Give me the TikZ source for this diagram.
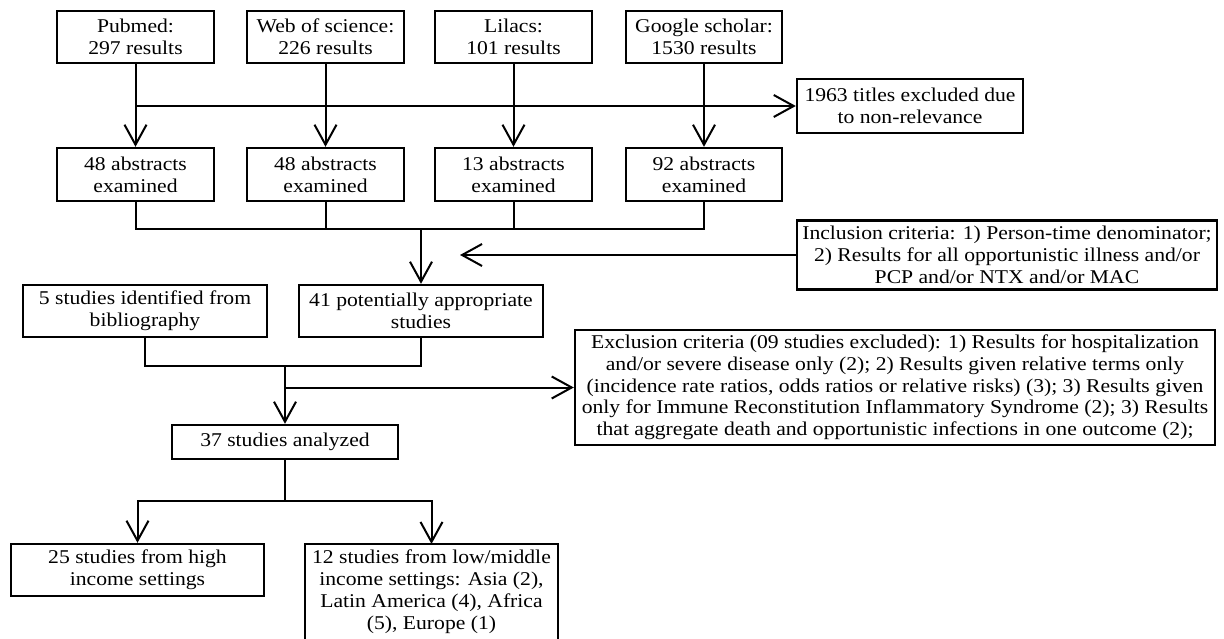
\documentclass[tikz,border=0pt]{standalone}
\usepackage{fontspec}
\setmainfont{Liberation Serif}[FakeStretch=1.11]
\usetikzlibrary{arrows.meta,positioning}

\begin{document}
\begin{tikzpicture}
  [
  x=1pt, y=-1pt,
  font=\fontsize{19.5}{21.7}\selectfont, line width=2pt, draw=black,
  >={Straight Barb[length=20pt,width=22pt]},
  box/.style={rectangle, draw=black, line width=2.4pt, align=center, inner sep=2pt, minimum height=52pt},
  dbbox/.style={box, minimum width=157pt},
  ]
  \useasboundingbox (0,0) rectangle (1224,639);
  \clip (0,0) rectangle (1224,639);

  % searches
  \node[dbbox] (pubmed) at (135.5,37) {Pubmed:\\297 results};
  \node[dbbox] (wos) at (325.5,37) {Web of science:\\226 results};
  \node[dbbox] (lilacs) at (513.5,37) {Lilacs:\\101 results};
  \node[dbbox, minimum width=156pt] (scholar) at (704,37) {Google scholar:\\1530 results};

  \node[box, minimum width=226pt, minimum height=54pt] (titles) at (910,106) {1963 titles excluded due\\to non-relevance};
  \draw[->] (pubmed.south |- titles.west) -- (titles.west);

  % abstracts
  \node[dbbox, minimum height=53pt] (abs1) at (135.5,174.5) {48 abstracts\\examined} edge[<-] (pubmed);
  \node[dbbox, minimum height=53pt] (abs2) at (325.5,174.5) {48 abstracts\\examined} edge[<-] (wos);
  \node[dbbox, minimum height=53pt] (abs3) at (513.5,174.5) {13 abstracts\\examined} edge[<-] (lilacs);
  \node[dbbox, minimum height=53pt, minimum width=156pt] (abs4) at (704,174.5) {92 abstracts\\examined} edge[<-] (scholar);

  \coordinate (absjoin) at (421,229);
  \draw (abs1.south) |- (absjoin) -| (abs4.south);
  \draw (abs2.south) -- (abs2.south |- absjoin);
  \draw (abs3.south) -- (abs3.south |- absjoin);

  \node[box, minimum width=420pt, minimum height=69pt] (incl) at (1007,255) {Inclusion criteria: 1) Person-time denominator;\\2) Results for all opportunistic illness and/or\\PCP and/or NTX and/or MAC};
  \coordinate (inclend) at (460,255);
  \draw[->] (incl.west) -- (inclend);

  % studies
  \node[box, minimum width=244pt] (biblio) at (145,311) {5 studies identified from\\bibliography};
  \node[box, minimum width=244pt] (potential) at (421,311) {41 potentially appropriate\\studies};
  \draw[->] (absjoin) -- (potential.north);

  \coordinate (studjoin) at (285,366);
  \draw (biblio.south) |- (studjoin) -| (potential.south);

  \node[box, minimum width=640pt, minimum height=115pt] (excl) at (895,387.5) {Exclusion criteria (09 studies excluded): 1) Results for hospitalization\\and/or severe disease only (2); 2) Results given relative terms only\\(incidence rate ratios, odds ratios or relative risks) (3); 3) Results given\\only for Immune Reconstitution Inflammatory Syndrome (2); 3) Results\\that aggregate death and opportunistic infections in one outcome (2);};
  \draw[->] (studjoin |- excl.west) -- (excl.west);

  \node[box, minimum width=226pt, minimum height=34pt] (analyzed) at (285,442) {37 studies analyzed};
  \draw[->] (studjoin) -- (analyzed.north);

  % settings
  \coordinate (setjoin) at (285,501);
  \draw (analyzed.south) -- (setjoin);
  \node[box, minimum width=253pt] (high) at (137.5,570) {25 studies from high\\income settings};
  % box runs off the bottom of the page
  \node[box, draw=none, minimum width=253pt, anchor=north, inner ysep=5pt] (low) at (431.5,544) {12 studies from low/middle\\income settings: Asia (2),\\Latin America (4), Africa\\(5), Europe (1)};
  \coordinate (lowleft) at (305,660);
  \coordinate (lowright) at (558,660);
  \draw[line width=2.4pt] (lowleft) |- (low.north) -| (lowright);
  \draw[->] (setjoin) -| (high.north);
  \draw[->] (setjoin) -- (setjoin -| low.north) -- (low.north);
\end{tikzpicture}
\end{document}
